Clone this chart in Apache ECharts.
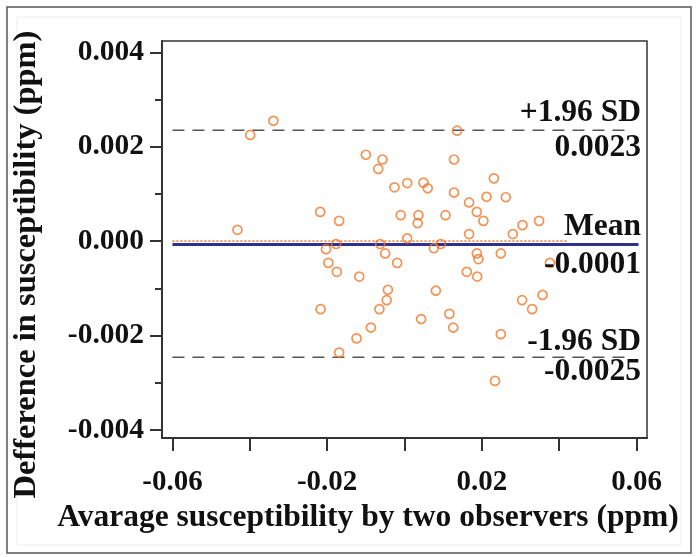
<!DOCTYPE html>
<html><head><meta charset="utf-8">
<script src="https://cdn.jsdelivr.net/npm/echarts@6/dist/echarts.min.js"></script>
<style>html,body{margin:0;padding:0;background:#fff}#c{width:696px;height:557px}</style>
</head><body><div id="c"></div>
<script>
// Data
const avgX = [-0.0432,-0.0399,-0.0339,-0.0218,-0.0169,-0.0100,-0.0057,-0.0068,-0.0026,-0.0010,
  0.0136,0.0128,0.0231,0.0007,0.0049,0.0060,0.0128,0.0167,0.0212,0.0262,
  0.0187,0.0036,0.0034,0.0106,0.0204,0.0305,0.0348,0.0007,0.0167,0.0280,
  -0.0203,-0.0177,-0.0197,-0.0175,-0.0117,-0.0217,-0.0063,-0.0050,-0.0019,-0.0043,
  -0.0046,-0.0065,-0.0087,-0.0124,-0.0169,0.0076,0.0094,0.0187,0.0191,0.0249,
  0.0161,0.0188,0.0376,0.0081,0.0043,0.0116,0.0126,0.0249,0.0304,0.0330,
  0.0357,0.0234];
const diffY = [0.00024,0.00225,0.00255,0.00062,0.00043,0.00183,0.00173,0.00153,0.00114,0.00055,
  0.00234,0.00173,0.00133,0.00123,0.00124,0.00112,0.00103,0.00082,0.00094,0.00093,
  0.00062,0.00055,0.00038,0.00055,0.00043,0.00034,0.00043,0.00006,0.00015,0.00015,
  -0.00017,-0.00006,-0.00046,-0.00065,-0.00075,-0.00144,-0.00006,-0.00026,-0.00046,-0.00103,
  -0.00125,-0.00144,-0.00183,-0.00206,-0.00236,-0.00015,-0.00006,-0.00026,-0.00038,-0.00026,
  -0.00065,-0.00075,-0.00046,-0.00105,-0.00165,-0.00154,-0.00183,-0.00197,-0.00125,-0.00144,
  -0.00114,-0.00296];
const meanDiff = -0.00007;
const upperLoA = 0.00235;
const lowerLoA = -0.00246;
const zeroRef = 0;
const loaXRange = [-0.06, 0.0583];
const meanXRange = [-0.06, 0.0605];
const zeroXRange = [-0.06, 0.042];
const xTickValues = [-0.06,-0.04,-0.02,0,0.02,0.04,0.06];
const xLabelValues = [-0.06,-0.02,0.02,0.06];
const yMajorValues = [-0.004,-0.002,0,0.002,0.004];
const yMinorValues = [-0.003,-0.001,0.001,0.003];
const annoTexts = ['+1.96 SD','0.0023','Mean','-0.0001','-1.96 SD','-0.0025'];

const pts = avgX.map((x,i)=>[x, diffY[i]]);
const FONT = '"Liberation Serif","Times New Roman",serif';
const chart = echarts.init(document.getElementById('c'));
const xMin=-0.0627, xMax=0.0627, yMin=-0.00417, yMax=0.00424;
const annoY = [113,148,227,265,342,372];

chart.setOption({
  animation:false,
  backgroundColor:'#fff',
  grid:{left:162,top:41,right:49,bottom:119,show:true,borderColor:'#333',borderWidth:1.5,
    containLabel:false,outerBoundsMode:'none'},
  xAxis:{type:'value',min:xMin,max:xMax,
    name:'Avarage susceptibility by two observers (ppm)',nameLocation:'middle',nameGap:64,
    nameTextStyle:{fontFamily:FONT,fontWeight:'bold',fontSize:31.5,color:'#111',padding:[0,73,0,0]},
    axisLine:{show:true,onZero:false,lineStyle:{color:'#333',width:2}},
    axisTick:{show:true,inside:false,length:13,customValues:xTickValues,lineStyle:{color:'#333',width:2}},
    axisLabel:{customValues:xLabelValues,margin:30,fontFamily:FONT,fontWeight:'bold',fontSize:29,color:'#111',
      formatter:v=>v.toFixed(2)},
    splitLine:{show:false}},
  yAxis:[{type:'value',min:yMin,max:yMax,
    name:'Defference in susceptibility (ppm)',nameLocation:'middle',nameGap:119,nameRotate:90,
    nameTextStyle:{fontFamily:FONT,fontWeight:'bold',fontSize:32.5,color:'#111',padding:[0,50,0,0]},
    axisLine:{show:true,onZero:false,lineStyle:{color:'#333',width:2}},
    axisTick:{show:true,inside:false,length:12,customValues:yMajorValues,lineStyle:{color:'#333',width:2}},
    axisLabel:{customValues:yMajorValues,margin:18,fontFamily:FONT,fontWeight:'bold',fontSize:29.5,color:'#111',
      formatter:v=>v.toFixed(3)},
    splitLine:{show:false}},
   {type:'value',min:yMin,max:yMax,position:'left',
    axisLine:{show:false,onZero:false},
    axisTick:{show:true,inside:false,length:7,customValues:yMinorValues,lineStyle:{color:'#333',width:2}},
    axisLabel:{show:false},splitLine:{show:false}}],
  series:[
    {type:'line',data:[[zeroXRange[0],zeroRef],[zeroXRange[1],zeroRef]],symbol:'none',silent:true,
      lineStyle:{color:'#f0883e',width:1.6,type:[2,2]},z:1},
    {type:'line',data:[[meanXRange[0],meanDiff],[meanXRange[1],meanDiff]],symbol:'none',silent:true,
      lineStyle:{color:'#2e318f',width:3},z:2},
    {type:'line',data:[[loaXRange[0],upperLoA],[loaXRange[1],upperLoA]],symbol:'none',silent:true,
      lineStyle:{color:'#555',width:1.5,type:[12,8]},z:2},
    {type:'line',data:[[loaXRange[0],lowerLoA],[loaXRange[1],lowerLoA]],symbol:'none',silent:true,
      lineStyle:{color:'#555',width:1.5,type:[12,8]},z:2},
    {type:'scatter',data:pts,symbol:'circle',symbolSize:9,z:3,
      itemStyle:{color:'rgba(255,255,255,0)',borderColor:'#f0782a',borderWidth:1.7}}
  ],
  graphic:[
    {type:'rect',shape:{x:7,y:7,width:684,height:546},style:{fill:'none',stroke:'#555',lineWidth:1.5},silent:true},
    {type:'rect',shape:{x:17,y:17,width:664,height:528},style:{fill:'none',stroke:'#eee',lineWidth:1},silent:true}
  ].concat(annoTexts.map((t,i)=>({type:'text',x:641,y:annoY[i],
      style:{text:t,fontFamily:FONT,fontWeight:'bold',fontSize:31.5,fill:'#111',align:'right',verticalAlign:'middle'},z:10})))
});
</script></body></html>
